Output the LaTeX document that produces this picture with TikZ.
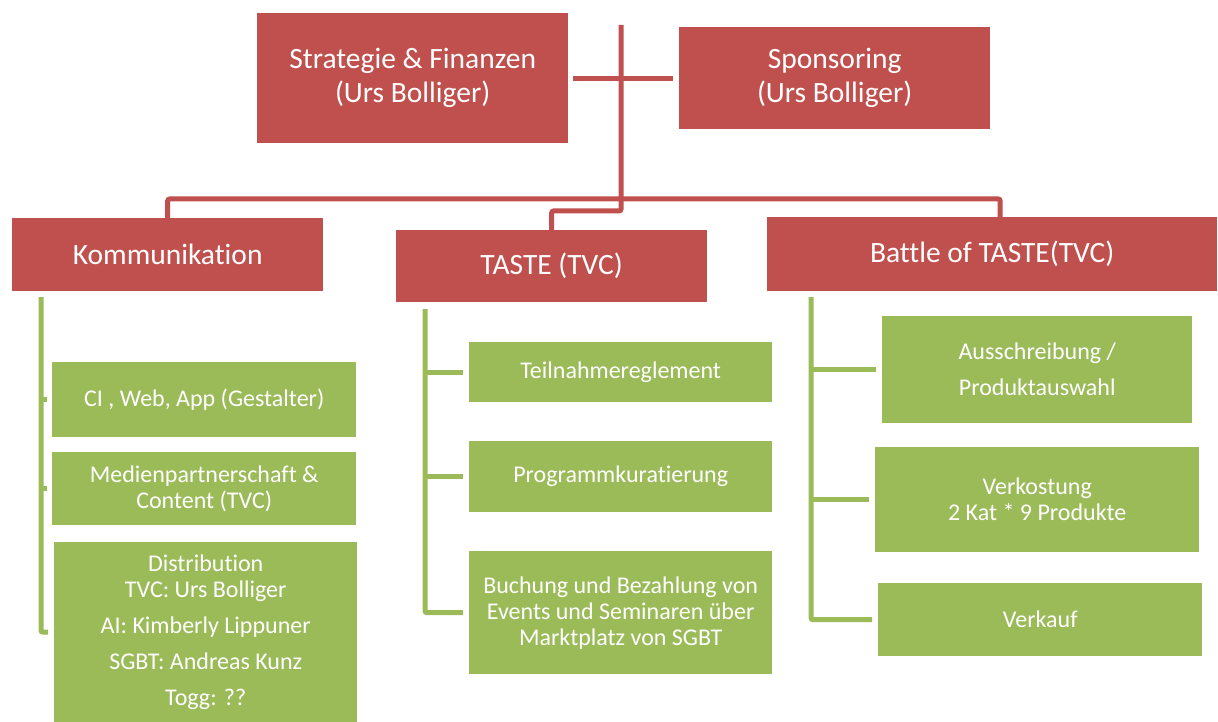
\documentclass[tikz,border=0pt]{standalone}
\usepackage{fontspec}
\setmainfont{Carlito}[Ligatures=NoCommon]
\usetikzlibrary{positioning}
\definecolor{redc}{HTML}{C0504D}
\definecolor{grnc}{HTML}{9BBB59}
\tikzset{
  rbox/.style={fill=redc,text=white,align=center,anchor=north west,inner sep=0pt,font=\fontsize{29.5}{34}\selectfont},
  gbox/.style={fill=grnc,text=white,align=center,anchor=north west,inner sep=0pt,font=\fontsize{24}{26}\selectfont},
  rl/.style={draw=redc,line width=5pt,rounded corners=2pt},
  gl/.style={draw=grnc,line width=5pt,rounded corners=2pt}
}
\begin{document}
\begin{tikzpicture}[x=1pt,y=-1pt]
\useasboundingbox (0,0) rectangle (1218,722);
\node[rbox,minimum width=311pt,minimum height=130pt] (strat) at (257,13) {Strategie \& Finanzen\\(Urs Bolliger)};
\node[rbox,minimum width=311pt,minimum height=102pt] (spons) at (679,27) {Sponsoring\\(Urs Bolliger)};
\node[rbox,minimum width=311pt,minimum height=73pt] (komm) at (12,218) {Kommunikation};
\node[rbox,minimum width=311pt,minimum height=72pt] (taste) at (396,230) {TASTE (TVC)};
\node[rbox,minimum width=450pt,minimum height=74pt] (battle) at (767,217) {Battle of TASTE(TVC)};
\node[gbox,minimum width=304pt,minimum height=75pt] (ci) at (52,362) {CI , Web, App (Gestalter)};
\node[gbox,minimum width=304pt,minimum height=73pt] (medien) at (52,452) {Medienpartnerschaft \&\\Content (TVC)};
\node[gbox,minimum width=303pt,minimum height=180pt] (dist) at (54,542) {Distribution\\TVC: Urs Bolliger\\[10pt]AI: Kimberly Lippuner\\[10pt]SGBT: Andreas Kunz\\[10pt]Togg: ??};
\node[gbox,minimum width=303pt,minimum height=60pt] (teil) at (469,342) {Teilnahmereglement};
\node[gbox,minimum width=303pt,minimum height=71pt] (prog) at (469,441) {Programmkuratierung};
\node[gbox,minimum width=303pt,minimum height=123pt] (buch) at (469,551) {Buchung und Bezahlung von\\Events und Seminaren über\\Marktplatz von SGBT};
\node[gbox,minimum width=310pt,minimum height=107pt] (aus) at (882,316) {Ausschreibung /\\[10pt]Produktauswahl};
\node[gbox,minimum width=324pt,minimum height=105pt] (verk) at (875,447) {Verkostung\\2 Kat * 9 Produkte};
\node[gbox,minimum width=324pt,minimum height=73pt] (kauf) at (878,583) {Verkauf};
\coordinate (rtop) at (621,25);
\coordinate (rbar) at (621,199);
\coordinate (rjoin) at (621,211);
\draw[rl] (rtop) -- (rjoin) -| ([yshift=-6pt]taste.north);
\draw[rl] ([xshift=5pt]strat.east) -- ([xshift=-6pt]spons.west);
\draw[rl] ([yshift=-6pt]komm.north) |- (rbar) -| ([xshift=8pt,yshift=-5pt]battle.north);
\coordinate (kl) at (41,297);
\coordinate (tl) at (425,309);
\coordinate (bl) at (811,297);
\draw[gl] (kl) |- ([xshift=-6pt]dist.west);
\foreach \n in {ci,medien}{\draw[gl] (kl |- \n.west) -- ([xshift=-5pt]\n.west);}
\draw[gl] (tl) |- ([xshift=-6pt]buch.west);
\foreach \n in {teil,prog}{\draw[gl] (tl |- \n.west) -- ([xshift=-6pt]\n.west);}
\draw[gl] (bl) |- ([xshift=-6pt]kauf.west);
\foreach \n in {aus,verk}{\draw[gl] (bl |- \n.west) -- ([xshift=-6pt]\n.west);}
\end{tikzpicture}
\end{document}
